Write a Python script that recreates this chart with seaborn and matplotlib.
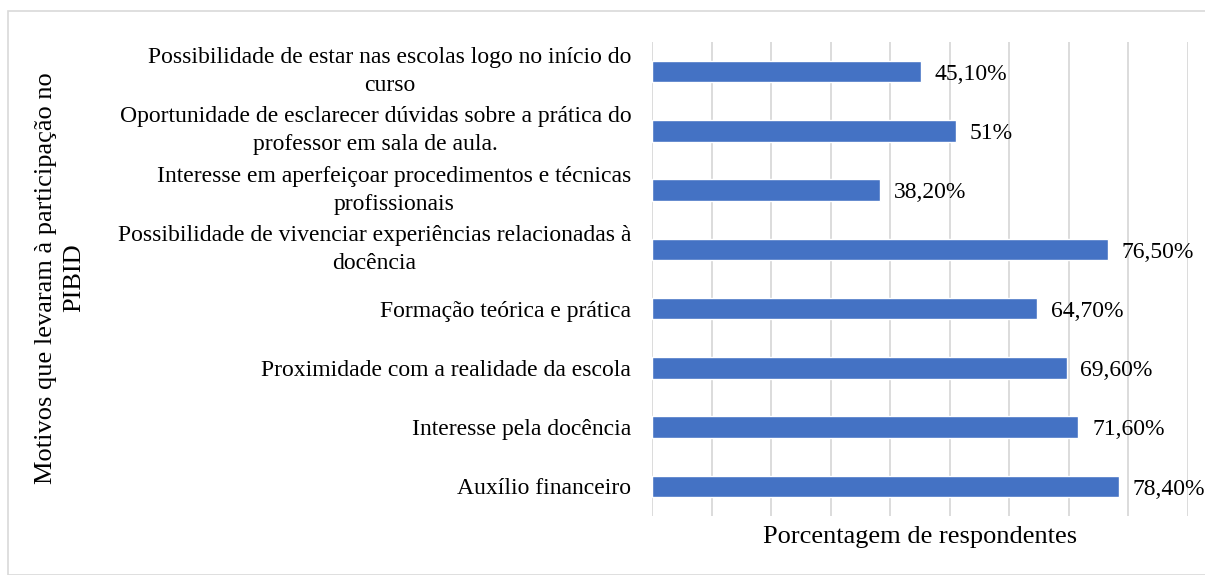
import matplotlib
matplotlib.use("Agg")
import matplotlib.pyplot as plt
import seaborn as sns
import pandas as pd

categories = [
    "Possibilidade de estar nas escolas logo no início do\ncurso",
    "Oportunidade de esclarecer dúvidas sobre a prática do\nprofessor em sala de aula.",
    "Interesse em aperfeiçoar procedimentos e técnicas\nprofissionais",
    "Possibilidade de vivenciar experiências relacionadas à\ndocência",
    "Formação teórica e prática",
    "Proximidade com a realidade da escola",
    "Interesse pela docência",
    "Auxílio financeiro",
]
values = [45.1, 51.0, 38.2, 76.5, 64.7, 69.6, 71.6, 78.4]
value_labels = ["45,10%", "51%", "38,20%", "76,50%", "64,70%", "69,60%", "71,60%", "78,40%"]

sns.set_theme(style="white")
plt.rcParams["font.family"] = ["Liberation Serif", "DejaVu Serif"]
plt.rcParams["text.color"] = "black"
plt.rcParams["axes.labelcolor"] = "black"
plt.rcParams["ytick.color"] = "black"

df = pd.DataFrame({"cat": categories, "val": values})

fig = plt.figure(figsize=(12.05, 5.75), dpi=100)
ax = fig.add_axes([652/1205, 1-516/575, (1188-652)/1205, (516-42)/575])
sns.barplot(data=df, y="cat", x="val", orient="h", color="#4472C4", width=0.36,
            saturation=1, ax=ax)
ax.set_xlim(0, 90)
ax.set_xticks(range(0, 91, 10))
ax.set_xticklabels([])
ax.tick_params(axis="x", length=0)
ax.tick_params(axis="y", length=0, pad=15, labelsize=17, labelcolor="black")
for lbl in ax.get_yticklabels():
    lbl.set_multialignment("center")
    lbl.set_linespacing(1.45)
    if "\n" in lbl.get_text():
        lbl.set_verticalalignment("center")
ax.grid(axis="x", color="#D9D9D9", linewidth=1.3)
ax.set_axisbelow(True)
for s in ax.spines.values():
    s.set_visible(False)
for p, t in zip(ax.patches, value_labels):
    ax.annotate(t, (p.get_width(), p.get_y() + p.get_height()/2),
                xytext=(10, -2), textcoords="offset points", va="center", ha="left",
                fontsize=17, color="black")
ax.set_ylabel("")
ax.set_xlabel("Porcentagem de respondentes", fontsize=19, labelpad=4, color="black")
fig.text(60/1205, 1-278/575, "Motivos que levaram à participação no\nPIBID", rotation=90,
         ha="center", va="center", fontsize=19, multialignment="center", linespacing=1.4,
         color="black")
fig.patches.append(plt.Rectangle((8/1205, 0), 1.2, 1-11/575, transform=fig.transFigure,
                                 fill=False, edgecolor="#D9D9D9", linewidth=1.2))
fig.savefig("out.png", dpi=100)
